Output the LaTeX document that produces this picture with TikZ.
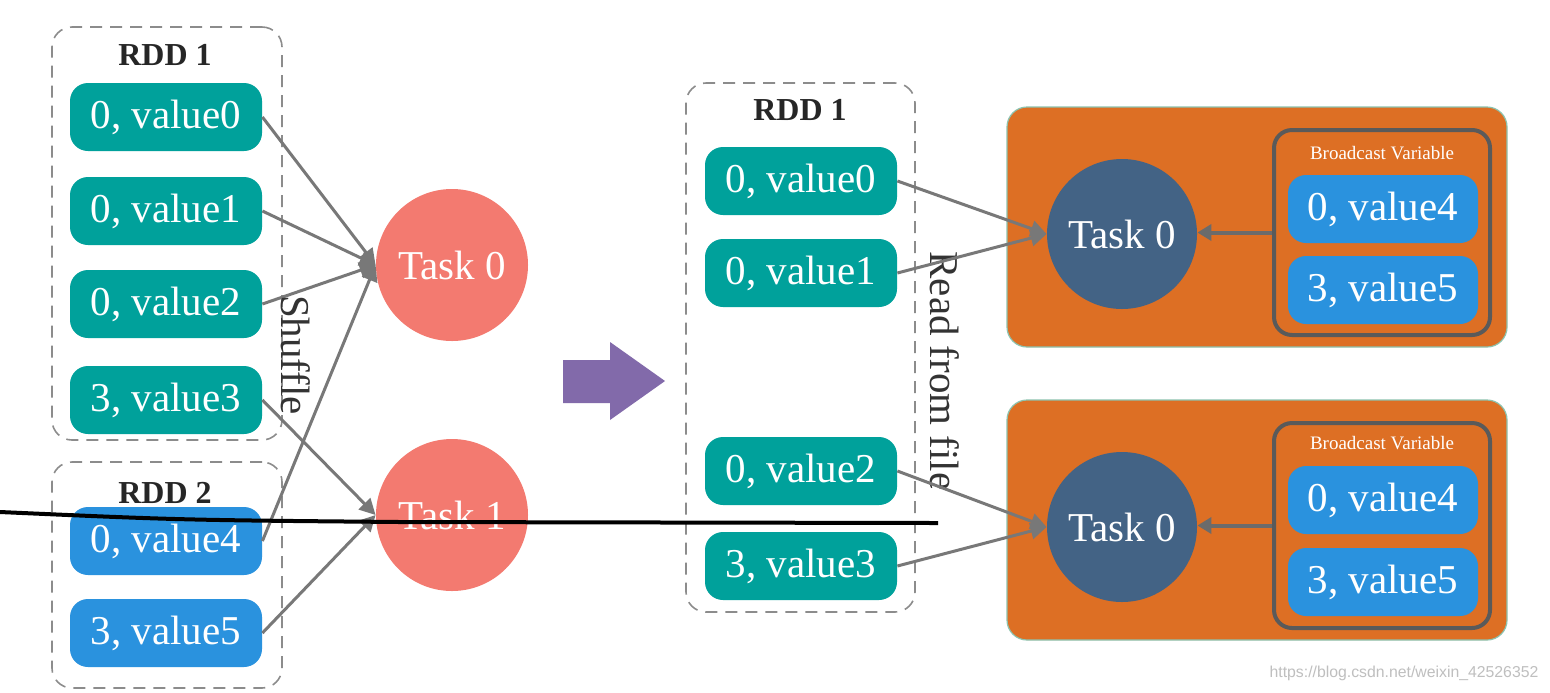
\documentclass[tikz,border=0pt]{standalone}
\usepackage{fontspec}
\setmainfont{Liberation Serif}
\newfontfamily\wmfont{Liberation Sans}
\usetikzlibrary{arrows.meta}
\definecolor{tealc}{RGB}{0,161,155}
\definecolor{bluec}{RGB}{42,146,222}
\definecolor{salmonc}{RGB}{243,122,112}
\definecolor{navyc}{RGB}{67,99,133}
\definecolor{orangec}{RGB}{221,111,36}
\definecolor{purplec}{RGB}{130,106,170}
\definecolor{arrowc}{RGB}{120,120,120}
\definecolor{framec}{RGB}{90,90,90}
\definecolor{edgec}{RGB}{140,195,175}
\tikzset{
  kv/.style={rounded corners=9pt, minimum width=96pt, minimum height=34pt, inner sep=0pt,
    text=white, font=\fontsize{20.5}{22}\selectfont},
  tealkv/.style={kv, fill=tealc},
  bluekv/.style={kv, fill=bluec, minimum width=95pt},
  dashbox/.style={draw=black!45, line width=0.8pt, rounded corners=10pt, dash pattern=on 6pt off 4pt,
    inner sep=0pt},
  taskc/.style={circle, minimum size=76pt, inner sep=0pt, text=white, font=\fontsize{20.5}{22}\selectfont},
  link/.style={draw=arrowc, line width=1.5pt, -{Triangle[length=8pt,width=8pt]}},
  bvlink/.style={draw=framec!90, line width=2pt, -{Triangle[length=7pt,width=8pt]}},
  rddlbl/.style={font=\bfseries\fontsize{16}{18}\selectfont, text=black!85},
  sidelbl/.style={font=\fontsize{20.5}{22}\selectfont, text=black!80, rotate=-90},
  orbox/.style={fill=orangec, draw=edgec, line width=0.6pt, rounded corners=10pt,
    minimum width=250pt, minimum height=120pt, inner sep=0pt},
  bvbox/.style={draw=framec, line width=2pt, rounded corners=9pt,
    minimum width=108pt, minimum height=102.5pt, inner sep=0pt},
  bvlbl/.style={font=\fontsize{9.5}{11}\selectfont, text=white}
}
\begin{document}
\begin{tikzpicture}[x=0.5pt,y=-0.5pt]
\useasboundingbox (0,0) rectangle (1550,692);
\fill[white] (0,0) rectangle (1550,692);

% ---------- left part ----------
\node[dashbox, minimum width=115pt, minimum height=206.5pt] (rddL1) at (167,233.5) {};
\node[rddlbl] (rddL1lbl) at (165,55) {RDD 1};
\node[tealkv] (a0) at (166,117) {0, value0};
\node[tealkv] (a1) at (166,211) {0, value1};
\node[tealkv] (a2) at (166,304) {0, value2};
\node[tealkv] (a3) at (166,400) {3, value3};

\node[dashbox, minimum width=115pt, minimum height=113pt] (rddL2) at (167,575) {};
\node[rddlbl] (rddL2lbl) at (165,493) {RDD 2};
\node[bluekv, minimum width=96pt] (b4) at (166,541) {0, value4};
\node[bluekv, minimum width=96pt] (b5) at (166,633) {3, value5};

\node[taskc, fill=salmonc] (t0) at (452,265) {Task 0};
\node[taskc, fill=salmonc] (t1) at (452,515) {Task 1};

\draw[link] (a0.east) -- (t0.west);
\draw[link] (a1.east) -- (t0.west);
\draw[link] (a2.east) -- (t0.west);
\draw[link] (b4.east) -- (t0.west);
\draw[link] (a3.east) -- (t1.west);
\draw[link] (b5.east) -- (t1.west);

\node[sidelbl] (shuffle) at (296,355) {Shuffle};

% ---------- big arrow ----------
\fill[purplec] (563,360) -- (610,360) -- (610,342) -- (665,381) -- (610,420) -- (610,403) -- (563,403) -- cycle;

% ---------- middle part ----------
\node[dashbox, minimum width=114.5pt, minimum height=264.5pt] (rddM) at (800.5,347.5) {};
\node[rddlbl] (rddMlbl) at (800,110) {RDD 1};
\node[tealkv] (m0) at (801,181) {0, value0};
\node[tealkv] (m1) at (801,273) {0, value1};
\node[tealkv] (m2) at (801,471) {0, value2};
\node[tealkv] (m3) at (801,566) {3, value3};
\node[sidelbl] (readf) at (945,371) {Read from file};

% ---------- right part ----------
\node[orbox] (o1) at (1257,227) {};
\node[orbox] (o2) at (1257,520) {};

\node[taskc, fill=navyc, minimum size=75pt] (k1) at (1122,234) {Task 0};
\node[taskc, fill=navyc, minimum size=75pt] (k2) at (1122,527) {Task 0};

\node[bvbox] (bv1) at (1382,232.5) {};
\node[bvlbl] (bv1lbl) at (1382,153) {Broadcast Variable};
\node[bluekv] (c4) at (1383,209) {0, value4};
\node[bluekv] (c5) at (1383,290) {3, value5};

\node[bvbox] (bv2) at (1382,525.5) {};
\node[bvlbl] (bv2lbl) at (1382,443) {Broadcast Variable};
\node[bluekv] (d4) at (1383,500) {0, value4};
\node[bluekv] (d5) at (1383,582) {3, value5};

\draw[bvlink] (bv1.west) -- (k1.east |- bv1.west);
\draw[bvlink] (bv2.west) -- (k2.east |- bv2.west);

\draw[link] (m0.east) -- (k1.west);
\draw[link] (m1.east) -- (k1.west);
\draw[link] (m2.east) -- (k2.west);
\draw[link] (m3.east) -- (k2.west);

% ---------- stray stroke ----------
\draw[line width=2pt, black] (0,512) .. controls (180,520) .. (400,522) -- (938,523);

% ---------- watermark ----------
\node[font=\wmfont\fontsize{7.9}{9}\selectfont, text=black!25] (wm) at (1404,673) {https://blog.csdn.net/weixin\_42526352};
\end{tikzpicture}
\end{document}
